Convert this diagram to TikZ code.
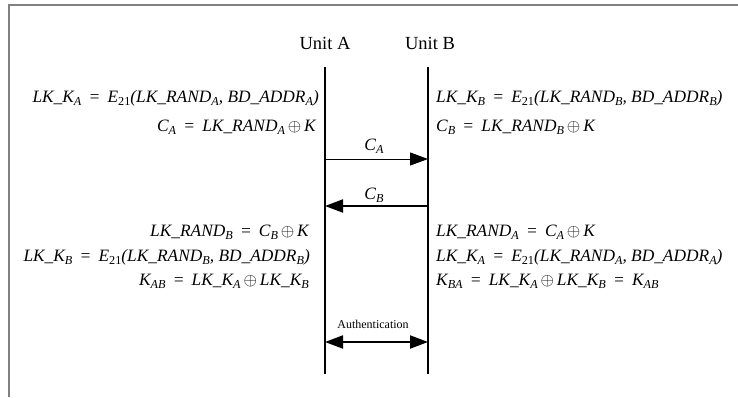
\documentclass[tikz,border=0pt]{standalone}
\usepackage{fontspec}
\setmainfont{Liberation Serif}
\usetikzlibrary{arrows.meta}
\newcommand\sbs[1]{\raisebox{-0.45ex}{\fontsize{12.2}{12}\selectfont #1}}
\newcommand\xo{\,{\upshape$\oplus$}\,}
\tikzset{
  life/.style={line width=2.4pt},
  eq/.style={font=\fontsize{17.35}{20}\selectfont\itshape, inner sep=0pt},
  unitlbl/.style={font=\fontsize{18.5}{21}\selectfont, inner sep=0pt},
  msglbl/.style={font=\fontsize{17.35}{20}\selectfont\itshape, inner sep=0pt},
  frame/.style={draw=black!50, line width=1.4pt},
  bighead/.tip={Triangle[length=18pt,width=13pt]},
}
\begin{document}
\begin{tikzpicture}[x=1pt,y=-1pt]
\useasboundingbox (0,0) rectangle (738,397);
\draw[frame] (9,397) -- (9,5) -- (738,5);
% units
\node[unitlbl] (ua) at (325,43) {Unit A};
\node[unitlbl] (ub) at (430,43) {Unit B};
\coordinate (at) at (325,67);
\coordinate (ab) at (325,374);
\coordinate (bt) at (428,67);
\coordinate (bb) at (428,374);
\draw[life] (at) -- (ab);
\draw[life] (bt) -- (bb);
% left upper
\node[eq, anchor=base east] (l1) at (319,102) {LK\_K\sbs{A} \,=\, E\sbs{\upshape 21}(LK\_RAND\sbs{A}, BD\_ADDR\sbs{A})};
\node[eq, anchor=base east] (l2) at (316,131) {C\sbs{A} \,=\, LK\_RAND\sbs{A}\xo K};
% right upper
\node[eq, anchor=base west] (r1) at (436,102) {LK\_K\sbs{B} \,=\, E\sbs{\upshape 21}(LK\_RAND\sbs{B}, BD\_ADDR\sbs{B})};
\node[eq, anchor=base west] (r2) at (436,131) {C\sbs{B} \,=\, LK\_RAND\sbs{B}\xo K};
% messages
\node[msglbl, anchor=base] (ca) at (374,150) {C\sbs{A}};
\coordinate (ca1) at (325,159);
\coordinate (ca2) at (428,159);
\draw[line width=1pt, -{bighead}] (ca1) -- (ca2);
\node[msglbl, anchor=base] (cb) at (374,199) {C\sbs{B}};
\coordinate (cb1) at (428,206);
\coordinate (cb2) at (325,206);
\draw[line width=2pt, -{bighead}] (cb1) -- (cb2);
% left lower
\node[eq, anchor=base east] (l3) at (309,236) {LK\_RAND\sbs{B} \,=\, C\sbs{B}\xo K};
\node[eq, anchor=base east] (l4) at (310,261) {LK\_K\sbs{B} \,=\, E\sbs{\upshape 21}(LK\_RAND\sbs{B}, BD\_ADDR\sbs{B})};
\node[eq, anchor=base east] (l5) at (309,285) {K\sbs{AB} \,=\, LK\_K\sbs{A}\xo LK\_K\sbs{B}};
% right lower
\node[eq, anchor=base west] (r3) at (436,236) {LK\_RAND\sbs{A} \,=\, C\sbs{A}\xo K};
\node[eq, anchor=base west] (r4) at (436,261) {LK\_K\sbs{A} \,=\, E\sbs{\upshape 21}(LK\_RAND\sbs{A}, BD\_ADDR\sbs{A})};
\node[eq, anchor=base west] (r5) at (436,285) {K\sbs{BA} \,=\, LK\_K\sbs{A}\xo LK\_K\sbs{B} \,=\, K\sbs{AB}};
% authentication
\node[font=\fontsize{12}{14}\selectfont, inner sep=0pt, anchor=base] (auth) at (373,328) {Authentication};
\coordinate (au1) at (325,342);
\coordinate (au2) at (428,342);
\draw[line width=2pt, {bighead}-{bighead}] (au1) -- (au2);
\end{tikzpicture}
\end{document}
